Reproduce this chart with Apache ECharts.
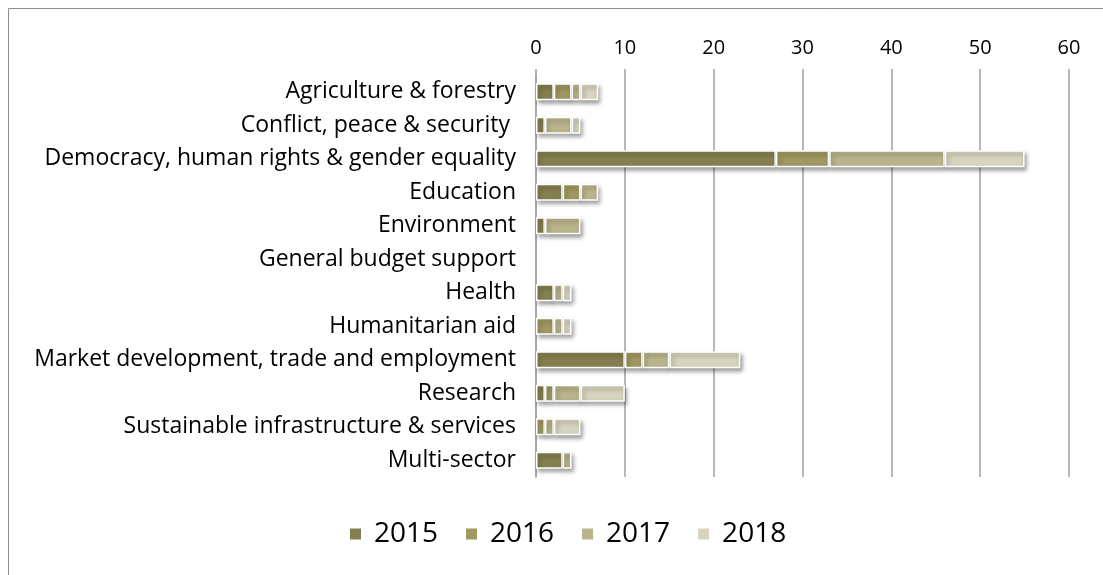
<!DOCTYPE html>
<html>
<head>
<meta charset="utf-8">
<style>
  html, body { margin: 0; padding: 0; background: #fff; }
  #chart { width: 1103px; height: 575px; }
</style>
<script src="https://cdn.jsdelivr.net/npm/echarts@6/dist/echarts.min.js"></script>
</head>
<body>
<div id="chart"></div>
<script>
// Sectors, listed top to bottom
const sectors = [
  'Agriculture & forestry',
  'Conflict, peace & security ',
  'Democracy, human rights & gender equality',
  'Education',
  'Environment',
  'General budget support',
  'Health',
  'Humanitarian aid',
  'Market development, trade and employment',
  'Research',
  'Sustainable infrastructure & services',
  'Multi-sector'
];

// Values per year, one entry per sector
const v2015 = [2, 1, 27, 3, 1, 0, 2, 0, 10, 1, 0, 3];
const v2016 = [2, 0, 6, 2, 0, 0, 0, 2, 2, 1, 1, 0];
const v2017 = [1, 3, 13, 2, 4, 0, 1, 1, 3, 3, 1, 1];
const v2018 = [2, 1, 9, 0, 0, 0, 1, 1, 8, 5, 3, 0];

const years = ['2015', '2016', '2017', '2018'];
const yearValues = [v2015, v2016, v2017, v2018];
const yearColors = ['#847f4f', '#9f9860', '#b9b48b', '#d6d4be'];

const axisTicks = [0, 10, 20, 30, 40, 50, 60];

const FONT = '"Open Sans", Lato, sans-serif';

const chart = echarts.init(document.getElementById('chart'));

const series = years.map((y, i) => ({
  name: y,
  type: 'bar',
  stack: 'total',
  barWidth: 17,
  data: yearValues[i].map(v => (v === 0 ? null : v)),
  itemStyle: {
    color: yearColors[i],
    borderColor: '#ffffff',
    borderWidth: 1.5,
    shadowColor: 'rgba(0,0,0,0.35)',
    shadowBlur: 4,
    shadowOffsetX: 2,
    shadowOffsetY: 3
  },
  z: 2 + i
}));

chart.setOption({
  animation: false,
  backgroundColor: '#ffffff',
  textStyle: { fontFamily: FONT },
  graphic: [{
    type: 'rect',
    shape: { x: 8.5, y: 8.5, width: 1200, height: 700 },
    style: { fill: 'none', stroke: '#8c8c8c', lineWidth: 1 },
    silent: true,
    z: -1
  }],
  grid: { left: 536, right: 34, top: 75, bottom: 98 },
  legend: {
    bottom: 22,
    left: 343,
    itemWidth: 13,
    itemHeight: 13,
    itemGap: 26,
    icon: 'rect',
    textStyle: { fontSize: 28, color: '#000', fontFamily: FONT, padding: [0, 0, 0, 7] },
    data: years
  },
  xAxis: {
    type: 'value',
    position: 'top',
    min: axisTicks[0],
    max: axisTicks[axisTicks.length - 1],
    interval: 10,
    axisLine: { show: false },
    axisTick: { show: true, length: 6, lineStyle: { color: '#a0a0a0', width: 1.5 } },
    axisLabel: { fontSize: 20, color: '#000', margin: 17, fontFamily: FONT },
    splitLine: { show: true, lineStyle: { color: '#a0a0a0', width: 1.5 } }
  },
  yAxis: {
    type: 'category',
    inverse: true,
    data: sectors,
    axisLine: { show: true, lineStyle: { color: '#a0a0a0', width: 1.5 } },
    axisTick: { show: false },
    axisLabel: { fontSize: 23, color: '#000', margin: 20, fontFamily: FONT }
  },
  series: series
});
</script>
</body>
</html>
